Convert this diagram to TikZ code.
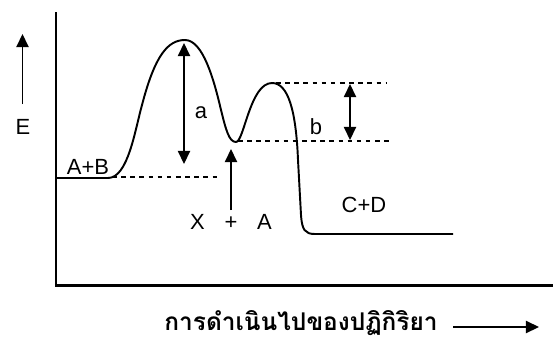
\documentclass[tikz,border=0pt]{standalone}
\usepackage{fontspec}
\setmainfont{Liberation Sans}
\newfontfamily\thaifont[Script=Thai]{Loma}
\usetikzlibrary{arrows.meta}

\tikzset{
  axis/.style={line width=1.7pt},
  profile/.style={line width=1.1pt, line join=round},
  guide/.style={line width=0.8pt, dash pattern=on 2.6pt off 2.6pt},
  gap/.style={line width=0.8pt, {Triangle[length=7.5pt,width=7pt]}-{Triangle[length=7.5pt,width=7pt]}},
  pointer/.style={line width=0.8pt, -{Triangle[length=7.5pt,width=7pt]}},
  lbl/.style={font=\fontsize{12.5}{14}\selectfont, inner sep=0pt},
}

\begin{document}
\begin{tikzpicture}[x=0.02cm, y=-0.02cm]
  \useasboundingbox (0,0) rectangle (553,338);

  % axes
  \coordinate (o) at (56,285);
  \coordinate (ytop) at (56,12);
  \coordinate (xend) at (553,285);
  \draw[axis] (ytop) -- (o) -- (xend);

  % E arrow
  \coordinate (e1) at (22.5,104);
  \coordinate (e2) at (22.5,34);
  \node[lbl] (elbl) at (23,127) {E};
  \draw[pointer] (e1) -- (e2);

  % reaction profile
  \draw[profile] (56,178) -- (108,178)
    .. controls (128,178) and (135,130) .. (142,105)
    .. controls (155,55) and (168,40) .. (185,40)
    .. controls (203,40) and (214,80) .. (221,110)
    .. controls (226,130) and (229,142) .. (236,142)
    .. controls (244,142) and (250,83) .. (272,83)
    .. controls (288,83) and (296,110) .. (298,160)
    -- (301,215)
    .. controls (302,230) and (305,234) .. (315,234) -- (453,234);

  % levels
  \coordinate (r1) at (112,177);
  \coordinate (r2) at (221,177);
  \coordinate (m1) at (238,141);
  \coordinate (m2) at (390,141);
  \coordinate (t1) at (276,83);
  \coordinate (t2) at (386,83);
  \draw[guide] (r1) -- (r2);
  \draw[guide] (m1) -- (m2);
  \draw[guide] (t1) -- (t2);

  % energy gaps
  \coordinate (a1) at (184,43);
  \coordinate (a2) at (184,164);
  \draw[gap] (a1) -- (a2);
  \node[lbl] (albl) at (201,113) {a};
  \coordinate (b1) at (350,84);
  \coordinate (b2) at (350,140);
  \draw[gap] (b1) -- (b2);
  \node[lbl] (blbl) at (316,127) {b};

  % species
  \node[lbl] (ab) at (88,167) {A+B};
  \node[lbl] (xa) at (231,222) {X\hspace{0.9em}+\hspace{0.9em}A};
  \node[lbl] (cd) at (364,205) {C+D};
  \coordinate (x1) at (231,210);
  \coordinate (x2) at (231,149);
  \draw[pointer] (x1) -- (x2);

  % reaction coordinate
  \node[inner sep=0pt, font=\thaifont\bfseries\fontsize{13.9}{16}\selectfont] (rxn) at (301,323) {การดำเนินไปของปฏิกิริยา};
  \coordinate (p1) at (453,327);
  \coordinate (p2) at (539,327);
  \draw[pointer] (p1) -- (p2);
\end{tikzpicture}
\end{document}
